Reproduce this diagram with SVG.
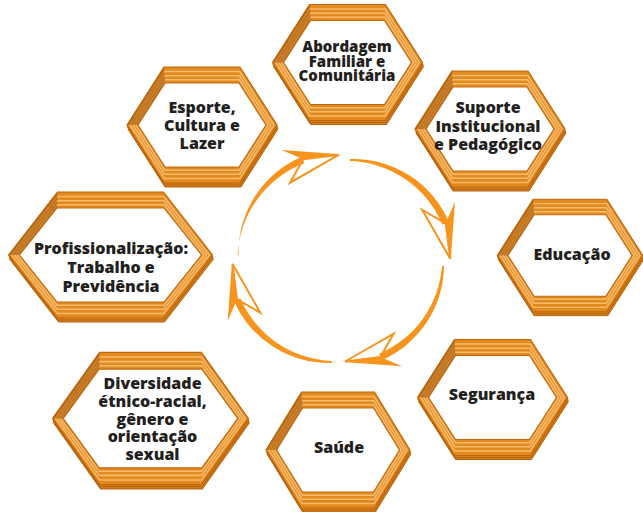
<svg xmlns="http://www.w3.org/2000/svg" xmlns:xlink="http://www.w3.org/1999/xlink" width="643" height="512" viewBox="0 0 643 512">
<style>
.lbl{font-family:"Open Sans","Noto Sans","DejaVu Sans",sans-serif;font-weight:800;font-size:16px;fill:#231f20;text-anchor:middle}
.sm{font-size:15px}
.stack{fill:#d8801a;stroke:#b2620e;stroke-width:1}
.base{fill:#e38a1f;stroke:#bd680f;stroke-width:1.2}
.stripe{fill:none;stroke:#f6bb6c;stroke-width:1.5}
.inner{fill:#ffffff;stroke:#c06a10;stroke-width:1.2}
.shade{fill:#a65a0c;opacity:.6}
.arc{fill:#f7941d}
.ahs{fill:#f7941d}
.aho{fill:none;stroke:#f7941d;stroke-width:2}
</style>
<defs>
<g id="hexS">
<path class="stack" transform="translate(1,4)" d="M-75,0 L-38,-58 L38,-58 L75,0 L38,58 L-38,58 Z"/>
<path class="stack" transform="translate(0.5,2)" d="M-75,0 L-38,-58 L38,-58 L75,0 L38,58 L-38,58 Z"/>
<path class="base" d="M-75,0 L-38,-58 L38,-58 L75,0 L38,58 L-38,58 Z"/>
<path class="stripe" d="M-71.9,0 L-37.7,-53.5 L37.7,-53.5 L71.9,0 L37.7,53.5 L-37.7,53.5 Z"/>
<path class="stripe" d="M-69,0 L-37.5,-49.2 L37.5,-49.2 L69,0 L37.5,49.2 L-37.5,49.2 Z"/>
<path class="stripe" d="M-66.2,0 L-37.2,-45.2 L37.2,-45.2 L66.2,0 L37.2,45.2 L-37.2,45.2 Z"/>
<path class="shade" d="M-75,0 L-38,-58 L-37,-42 L-64,0 Z"/>
<path class="inner" d="M-64,0 L-37,-42 L37,-42 L64,0 L37,42 L-37,42 Z"/>
</g>
<g id="hexW">
<path class="stack" transform="translate(1,4)" d="M-102,0 L-53,-63 L53,-63 L102,0 L53,63 L-53,63 Z"/>
<path class="stack" transform="translate(0.5,2)" d="M-102,0 L-53,-63 L53,-63 L102,0 L53,63 L-53,63 Z"/>
<path class="base" d="M-102,0 L-53,-63 L53,-63 L102,0 L53,63 L-53,63 Z"/>
<path class="stripe" d="M-98.9,0 L-53.1,-58.5 L53.1,-58.5 L98.9,0 L53.1,58.5 L-53.1,58.5 Z"/>
<path class="stripe" d="M-96,0 L-53.3,-54.2 L53.3,-54.2 L96,0 L53.3,54.2 L-53.3,54.2 Z"/>
<path class="stripe" d="M-93.2,0 L-53.4,-50.2 L53.4,-50.2 L93.2,0 L53.4,50.2 L-53.4,50.2 Z"/>
<path class="shade" d="M-102,0 L-53,-63 L-53.5,-47 L-91,0 Z"/>
<path class="inner" d="M-91,0 L-53.5,-47 L53.5,-47 L91,0 L53.5,47 L-53.5,47 Z"/>
</g>
<g id="ah">
<path class="ahs" d="M0,0 L-59,-4.3 L-37.4,5 Z"/>
<path class="aho" d="M-2,0.5 L-37.4,5 L-50.7,28.4 Z"/>
</g>
</defs>
<rect width="643" height="512" fill="#ffffff"/>

<g id="connectors">
<path class="arc" d="M238.5,254 A104,104 0 0 1 301.8,156.7 L304.2,163.3 A104,104 0 0 0 237.5,256 Z"/>
<path class="arc" d="M350,159 A104,104 0 0 1 449,222.1 L442.4,224.5 A104,104 0 0 0 350,161 Z"/>
<path class="arc" d="M444,265.5 A104,104 0 0 1 381.7,360.2 L379.1,353.8 A104,104 0 0 0 442,266.5 Z"/>
<path class="arc" d="M332,363 A104,104 0 0 1 233.7,300.6 L240.3,298.2 A104,104 0 0 0 332,361 Z"/>
<use xlink:href="#ah" transform="translate(340.7,154.3)"/>
<use xlink:href="#ah" transform="translate(450.7,260.7) rotate(90)"/>
<use xlink:href="#ah" transform="translate(343,362) rotate(180)"/>
<use xlink:href="#ah" transform="translate(232,262) rotate(270)"/>
</g>

<g id="abordagem">
<use xlink:href="#hexS" transform="translate(347.5,62.5)"/>
<text class="lbl sm" x="347" y="52">Abordagem</text>
<text class="lbl sm" x="347" y="66.5">Familiar e</text>
<text class="lbl sm" x="347" y="81">Comunitária</text>
</g>
<g id="suporte">
<use xlink:href="#hexS" transform="translate(490,129)"/>
<text class="lbl" x="488" y="113">Suporte</text>
<text class="lbl" x="488" y="131.5">Institucional</text>
<text class="lbl" x="488" y="149.5">e Pedagógico</text>
</g>
<g id="esporte">
<use xlink:href="#hexS" transform="translate(202,125)"/>
<text class="lbl" x="202" y="113">Esporte,</text>
<text class="lbl" x="202" y="131">Cultura e</text>
<text class="lbl" x="202" y="149">Lazer</text>
</g>
<g id="profissionalizacao">
<use xlink:href="#hexW" transform="translate(110.5,255)"/>
<text class="lbl" x="111" y="254">Profissionalização:</text>
<text class="lbl" x="111" y="273">Trabalho e</text>
<text class="lbl" x="111" y="292">Previdência</text>
</g>
<g id="educacao">
<use xlink:href="#hexS" transform="translate(570,255.5) scale(0.97)"/>
<text class="lbl" x="572" y="260">Educação</text>
</g>
<g id="diversidade">
<use xlink:href="#hexW" transform="translate(150.5,418.5) scale(0.96,1.05)"/>
<text class="lbl" x="152.5" y="389">Diversidade</text>
<text class="lbl" x="152.5" y="407">étnico-racial,</text>
<text class="lbl" x="152.5" y="424.5">gênero e</text>
<text class="lbl" x="152.5" y="442">orientação</text>
<text class="lbl" x="152.5" y="460">sexual</text>
</g>
<g id="seguranca">
<use xlink:href="#hexS" transform="translate(492.5,397.5)"/>
<text class="lbl" x="492" y="400">Segurança</text>
</g>
<g id="saude">
<use xlink:href="#hexS" transform="translate(338,450) scale(0.96,1)"/>
<text class="lbl" x="339" y="453">Saúde</text>
</g>
</svg>
